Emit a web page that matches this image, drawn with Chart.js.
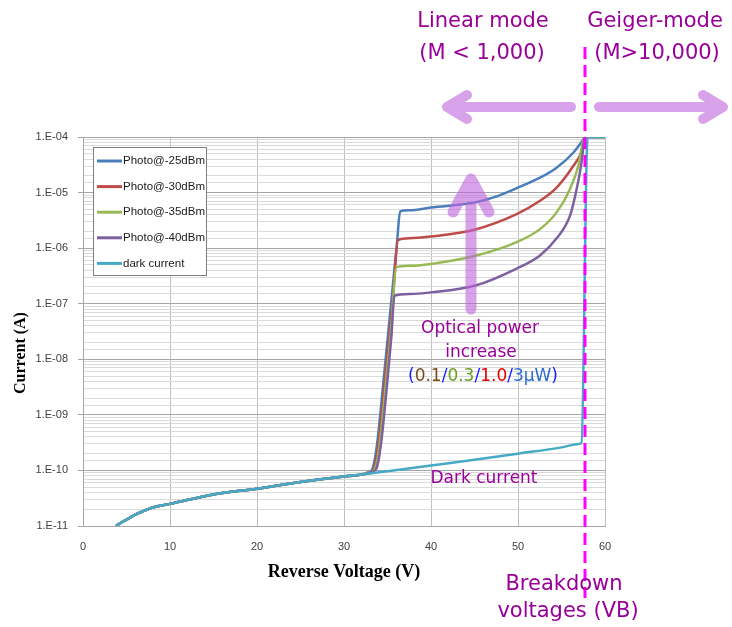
<!DOCTYPE html>
<html>
<head>
<meta charset="utf-8">
<title>APD current vs reverse voltage</title>
<script src="https://cdn.jsdelivr.net/npm/chart.js@4.4.0/dist/chart.umd.min.js"></script>
<style>
    body { margin: 0; background: #fff; }
    #wrap { width: 732px; height: 627px; position: relative; }
</style>
</head>
<body>
<div id="wrap"><canvas id="myChart"></canvas></div>
<script>
// leakage below punch-through, shared by all curves (V, A)
const leakV = [3.8, 4.5, 5, 6, 7, 8, 10, 15, 20, 25, 30];
const leakI = [1.0e-11, 1.18e-11, 1.3e-11, 1.6e-11, 1.87e-11, 2.15e-11, 2.5e-11, 3.7e-11, 4.7e-11, 6.2e-11, 7.8e-11];

// dark current
const darkV = [33, 35, 40, 45, 50, 55, 57, 57.3, 58, 60];
const darkI = [8.8e-11, 9.7e-11, 1.23e-10, 1.55e-10, 2.0e-10, 2.6e-10, 3.0e-10, 3.1e-10, 1e-4, 1e-4];

// Photo@-25dBm
const p25V = [32.8, 33.3, 33.6, 33.9, 34.5, 35.5, 36.1, 36.45, 37.5, 40, 45, 47.2, 49.85, 52.53, 54.44, 56.35, 57.5, 57.69, 60];
const p25I = [9.3e-11, 1.1e-10, 1.8e-10, 4.0e-10, 3.5e-9, 1.4e-7, 1.3e-6, 4.6e-6, 4.8e-6, 5.4e-6, 6.6e-6, 8.2e-6, 1.2e-5, 1.85e-5, 2.8e-5, 5.2e-5, 9e-5, 1e-4, 1e-4];

// Photo@-30dBm
const p30V = [32.95, 33.45, 33.75, 34.05, 34.65, 35.65, 36.2, 37.5, 40, 45, 49.85, 52.53, 54.44, 56.35, 57.31, 57.69, 60];
const p30I = [9.2e-11, 1.1e-10, 1.8e-10, 4.0e-10, 3.5e-9, 1.4e-7, 1.4e-6, 1.5e-6, 1.62e-6, 2.15e-6, 4.1e-6, 7.1e-6, 1.23e-5, 3.0e-5, 5.5e-5, 1e-4, 1e-4];

// Photo@-35dBm
const p35V = [33.1, 33.6, 33.9, 34.2, 34.8, 35.4, 36.0, 37.5, 40, 45, 49.85, 52.53, 54.44, 55.97, 56.93, 57.69, 60];
const p35I = [9.4e-11, 1.1e-10, 1.8e-10, 4.0e-10, 3.5e-9, 3.2e-8, 4.5e-7, 4.8e-7, 5.2e-7, 7.2e-7, 1.28e-6, 2.2e-6, 4.4e-6, 1.15e-5, 3.0e-5, 1e-4, 1e-4];

// Photo@-40dBm
const p40V = [33.25, 33.75, 34.05, 34.35, 34.95, 35.45, 35.8, 37.5, 40, 45, 49.85, 52.53, 54.44, 55.97, 56.74, 57.31, 57.69, 60];
const p40I = [9.4e-11, 1.1e-10, 1.8e-10, 4.0e-10, 3.5e-9, 2.6e-8, 1.4e-7, 1.5e-7, 1.6e-7, 2.1e-7, 4.3e-7, 7.4e-7, 1.5e-6, 3.8e-6, 1.15e-5, 3.5e-5, 1e-4, 1e-4];

const seriesLabels = ['Photo@-25dBm', 'Photo@-30dBm', 'Photo@-35dBm', 'Photo@-40dBm', 'dark current'];
const seriesColors = ['#4a7ebb', '#be4b48', '#98b954', '#7d60a0', '#46aac5'];
const decadeLabels = ['1.E-11', '1.E-10', '1.E-09', '1.E-08', '1.E-07', '1.E-06', '1.E-05', '1.E-04'];

const VB = 57.7;  // breakdown voltage marker
const purple = '#990099';
const arrowColor = 'rgba(190, 100, 220, 0.6)';

document.addEventListener("DOMContentLoaded", function() {
    mychart();
})

function toPoints(v, i) {
    return v.map((x, k) => ({x: x, y: i[k]}));
}

function isDecade(v) {
    const l = Math.log10(v);
    return Math.abs(l - Math.round(l)) < 1e-6;
}

function arrow(ctx, x0, y0, x1, y1, back, spread) {
    const len = Math.hypot(x1 - x0, y1 - y0);
    const ux = (x1 - x0) / len, uy = (y1 - y0) / len;
    ctx.beginPath();
    ctx.moveTo(x0, y0);
    ctx.lineTo(x1, y1);
    ctx.moveTo(x1 - ux * back - uy * spread, y1 - uy * back + ux * spread);
    ctx.lineTo(x1, y1);
    ctx.lineTo(x1 - ux * back + uy * spread, y1 - uy * back - ux * spread);
    ctx.stroke();
}

function text(ctx, str, x, y, font, color) {
    ctx.font = font;
    ctx.fillStyle = color;
    ctx.textAlign = 'center';
    ctx.textBaseline = 'middle';
    ctx.fillText(str, x, y);
}

const annotations = {
    id: 'annotations',
    afterDatasetsDraw(chart) {
        const ctx = chart.ctx;
        const xs = chart.scales.x;
        const area = chart.chartArea;

        // breakdown line
        const xb = xs.getPixelForValue(VB);
        ctx.save();
        ctx.strokeStyle = '#ff00ff';
        ctx.lineWidth = 3;
        ctx.setLineDash([12, 6]);
        ctx.beginPath();
        ctx.moveTo(xb, area.top - 90);
        ctx.lineTo(xb, area.bottom + 72);
        ctx.stroke();
        ctx.restore();

        // arrows
        ctx.save();
        ctx.strokeStyle = arrowColor;
        ctx.lineCap = 'round';
        ctx.lineJoin = 'round';
        ctx.lineWidth = 10;
        arrow(ctx, xb - 14, area.top - 30, 447, area.top - 30, 20, 12);
        arrow(ctx, xb + 14, area.top - 30, 723, area.top - 30, 20, 12);
        ctx.lineWidth = 11;
        arrow(ctx, 471, 309, 471, 179, 33, 18);
        ctx.restore();
    },
    afterDraw(chart) {
        const ctx = chart.ctx;
        const area = chart.chartArea;
        ctx.save();

        // axis titles
        text(ctx, 'Reverse Voltage (V)', (area.left + area.right) / 2, 572, 'bold 18px "Liberation Serif"', '#000');
        ctx.save();
        ctx.translate(21, 353);
        ctx.rotate(-Math.PI / 2);
        text(ctx, 'Current (A)', 0, 0, 'bold 16px "Liberation Serif"', '#000');
        ctx.restore();

        // notes
        const f21 = '21px "DejaVu Sans"';
        const f17 = '17px "DejaVu Sans"';
        text(ctx, 'Linear mode', 483, 22, f21, purple);
        text(ctx, '(M < 1,000)', 482, 54, f21, purple);
        text(ctx, 'Geiger-mode', 655, 22, f21, purple);
        text(ctx, '(M>10,000)', 657, 54, f21, purple);
        text(ctx, 'Optical power', 480, 329, f17, purple);
        text(ctx, 'increase', 481, 353, f17, purple);
        text(ctx, 'Dark current', 484, 479, f17, purple);
        text(ctx, 'Breakdown', 564, 585, f21, purple);
        text(ctx, 'voltages (VB)', 568, 612, f21, purple);

        // coloured power list
        const parts = [['(', '#1a1aff'], ['0.1', '#7a4a1a'], ['/', '#1a1aff'], ['0.3', '#6aa020'],
                       ['/', '#1a1aff'], ['1.0', '#e00000'], ['/', '#1a1aff'], ['3µW', '#2a6fd0'], [')', '#1a1aff']];
        ctx.font = f17;
        let total = 0;
        parts.forEach(p => total += ctx.measureText(p[0]).width);
        let px = 483 - total / 2;
        ctx.textAlign = 'left';
        ctx.textBaseline = 'middle';
        parts.forEach(p => {
            ctx.fillStyle = p[1];
            ctx.fillText(p[0], px, 377);
            px += ctx.measureText(p[0]).width;
        });

        // legend box
        const lx = area.left + 10, ly = area.top + 10;
        ctx.fillStyle = '#fff';
        ctx.fillRect(lx, ly, 113, 128);
        ctx.strokeStyle = '#7f7f7f';
        ctx.lineWidth = 1;
        ctx.strokeRect(lx + 0.5, ly + 0.5, 113, 128);
        ctx.font = '11.5px "Liberation Sans"';
        ctx.textAlign = 'left';
        chart.data.datasets.forEach((ds, k) => {
            const yy = ly + 14 + k * 25.6;
            ctx.strokeStyle = ds.borderColor;
            ctx.lineWidth = 3;
            ctx.beginPath();
            ctx.moveTo(lx + 4, yy);
            ctx.lineTo(lx + 29, yy);
            ctx.stroke();
            ctx.fillStyle = '#1a1a1a';
            ctx.fillText(ds.label, lx + 30, yy);
        });
        ctx.restore();
    }
};

function mychart() {
    const datasets = [
        toPoints(leakV.concat(p25V), leakI.concat(p25I)),
        toPoints(leakV.concat(p30V), leakI.concat(p30I)),
        toPoints(leakV.concat(p35V), leakI.concat(p35I)),
        toPoints(leakV.concat(p40V), leakI.concat(p40I)),
        toPoints(leakV.concat(darkV), leakI.concat(darkI))
    ].map((pts, k) => ({
        label: seriesLabels[k],
        data: pts,
        borderColor: seriesColors[k],
        backgroundColor: seriesColors[k],
        borderWidth: 2.5,
        pointRadius: 0,
        fill: false,
        cubicInterpolationMode: 'monotone',
        order: k == 4 ? 0 : 4 - k + 1
    }));

    const ctx = document.getElementById('myChart');

    new Chart(ctx, {
        type: 'line',
        data: { datasets: datasets },
        options: {
            responsive: true,
            maintainAspectRatio: false,
            animation: false,
            layout: {
                padding: { left: 0, right: 127, top: 137, bottom: 0 }
            },
            plugins: {
                legend: false,
                tooltip: { enabled: false }
            },
            scales: {
                x: {
                    type: 'linear',
                    min: 0,
                    max: 60,
                    ticks: {
                        stepSize: 10,
                        padding: 14,
                        color: '#404040',
                        font: { family: 'Liberation Sans', size: 11 }
                    },
                    grid: { color: '#bfbfbf', drawTicks: false },
                    border: { color: '#a6a6a6' },
                    afterFit: function(scale) { scale.height = 101; }
                },
                y: {
                    type: 'logarithmic',
                    min: 1e-11,
                    max: 1e-4,
                    ticks: {
                        autoSkip: false,
                        padding: 10,
                        color: '#404040',
                        font: { family: 'Liberation Sans', size: 11 },
                        callback: function(value) {
                            if (!isDecade(value)) return '';
                            return decadeLabels[Math.round(Math.log10(value)) + 11];
                        }
                    },
                    grid: {
                        tickLength: 5,
                        color: c => isDecade(c.tick.value) ? '#a6a6a6' : '#dadada',
                        tickColor: c => isDecade(c.tick.value) ? '#a6a6a6' : 'rgba(0,0,0,0)'
                    },
                    border: { color: '#a6a6a6' },
                    afterFit: function(scale) { scale.width = 83; }
                }
            }
        },
        plugins: [annotations]
    });
}
</script>
</body>
</html>
